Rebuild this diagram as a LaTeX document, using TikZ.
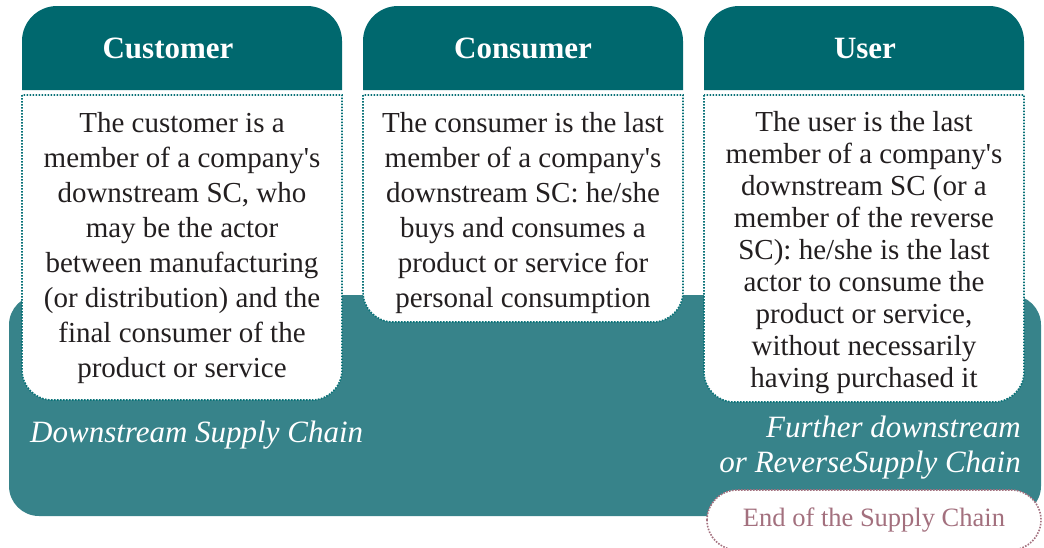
\documentclass[tikz,border=0pt]{standalone}
\usepackage{fontspec}
\setmainfont{Liberation Serif}[Ligatures=TeXOff]
\definecolor{hdr}{HTML}{00686E}
\definecolor{bgc}{HTML}{37838A}
\definecolor{dotc}{HTML}{0A7278}
\definecolor{mauve}{HTML}{A3707E}
\definecolor{txt}{HTML}{231F20}
\tikzset{
  hdrshape/.style={fill=hdr},
  bodyshape/.style={fill=white, draw=dotc, line width=1.6pt, dash pattern=on 1.6pt off 1.4pt},
  hdrtext/.style={font=\fontsize{31}{34}\selectfont\bfseries, text=white, inner sep=0pt},
  bodytext/.style={font=\fontsize{29}{35}\selectfont, text=txt, align=center, inner sep=0pt, anchor=north},
  chaintext/.style={font=\fontsize{31}{36}\selectfont\itshape, text=white, inner sep=0pt},
  endshape/.style={fill=white, draw=mauve, line width=1.6pt, dash pattern=on 1.6pt off 1.4pt},
  endtext/.style={font=\fontsize{26.5}{30}\selectfont, text=mauve, inner sep=0pt}
}
\begin{document}
\begin{tikzpicture}[x=1pt,y=-1pt]
\useasboundingbox (0,0) rectangle (1044,547);
% background band
\fill[bgc, rounded corners=30pt] (9,295) rectangle (1041,516);
% three columns
\foreach \x/\b in {22/400, 363/322, 704/402}{
  \begin{scope}[xshift=\x pt]
    \path[hdrshape] (0,90) -- (0,41) .. controls (0,21.7) and (15.7,6) .. (35,6)
      -- (285,6) .. controls (304.3,6) and (320,21.7) .. (320,41) -- (320,90) -- cycle;
    \pgfmathsetmacro{\bb}{\b-30}
    \pgfmathsetmacro{\bc}{\b-13.4}
    \path[bodyshape] (0,95) -- (0,\bb) .. controls (0,\bc) and (13.4,\b) .. (30,\b)
      -- (290,\b) .. controls (306.6,\b) and (320,\bc) .. (320,\bb) -- (320,95) -- cycle;
  \end{scope}
}
\node[hdrtext] (hcust) at (168,48) {Customer};
\node[hdrtext] (hcons) at (523,48) {Consumer};
\node[hdrtext] (huser) at (865,48) {User};
\node[bodytext] (tcust) at (182,112) {The customer is a\\member of a company's\\downstream SC, who\\may be the actor\\between manufacturing\\(or distribution) and the\\final consumer of the\\product or service};
\node[bodytext] (tcons) at (523,112) {The consumer is the last\\member of a company's\\downstream SC: he/she\\buys and consumes a\\product or service for\\personal consumption};
\node[bodytext, font=\fontsize{29}{32}\selectfont] (tuser) at (864,111) {The user is the last\\member of a company's\\downstream SC (or a\\member of the reverse\\SC): he/she is the last\\actor to consume the\\product or service,\\without necessarily\\having purchased it};
% chain labels
\node[chaintext, anchor=base west] (ldown) at (30,442) {Downstream Supply Chain};
\node[chaintext, anchor=base east] (lfur1) at (1021,437) {Further downstream};
\node[chaintext, anchor=base east] (lfur2) at (1021,472) {or ReverseSupply Chain};
% end of chain
\path[endshape] (707,520) .. controls (707,503.4) and (720.4,490) .. (737,490)
  -- (1011,490) .. controls (1027.6,490) and (1041,503.4) .. (1041,520)
  .. controls (1041,536.6) and (1027.6,550) .. (1011,550)
  -- (737,550) .. controls (720.4,550) and (707,536.6) .. (707,520) -- cycle;
\node[endtext] (endsc) at (874,520) {End of the Supply Chain};
\end{tikzpicture}
\end{document}
